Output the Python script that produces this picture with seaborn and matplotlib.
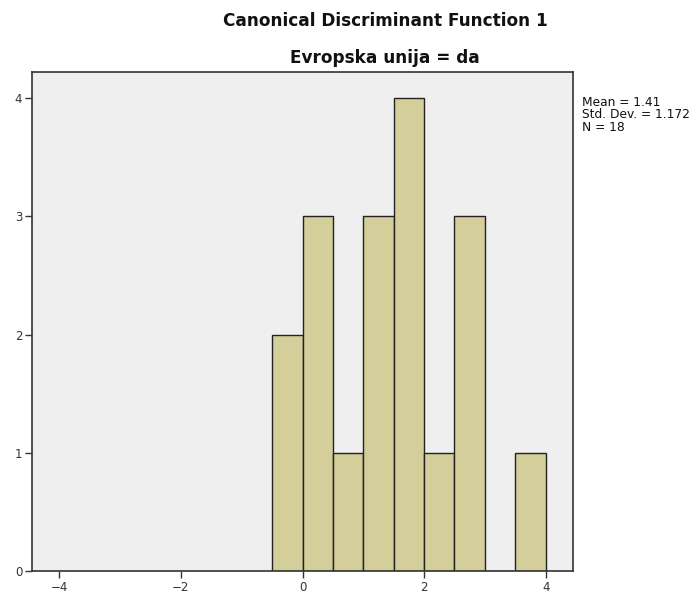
import numpy as np
import pandas as pd
import matplotlib
matplotlib.use("Agg")
import matplotlib.pyplot as plt
import seaborn as sns

# histogram data (SPSS-style discriminant score histogram)
bin_edges = [-0.5, 0.0, 0.5, 1.0, 1.5, 2.0, 2.5, 3.0, 3.5, 4.0]
counts = [2, 3, 1, 3, 4, 1, 3, 0, 1]
x_ticks = [-4, -2, 0, 2, 4]
y_ticks = [0, 1, 2, 3, 4]
stats_text = "Mean = 1.41\nStd. Dev. = 1.172\nN = 18"
title1 = "Canonical Discriminant Function 1"
title2 = "Evropska unija = da"

sns.set_style("ticks")
plt.rcParams['font.family'] = ['DejaVu Sans']

centers = [(a + b) / 2 for a, b in zip(bin_edges[:-1], bin_edges[1:])]
df = pd.DataFrame({'score': centers, 'count': counts})

fig = plt.figure(figsize=(6.96, 5.94), dpi=100)
ax = fig.add_axes([32 / 696, 23 / 594, 541 / 696, 499 / 594])
ax.set_facecolor('#efefef')

sns.histplot(data=df, x='score', weights='count', bins=bin_edges, ax=ax,
             color='#d3ce9a', alpha=1, edgecolor='#222222', linewidth=1.0)

ax.set_xlim(-4.45, 4.45)
ax.set_ylim(0, 4.22)
ax.set_xticks(x_ticks)
ax.set_yticks(y_ticks)
ax.set_xticklabels([str(t).replace('-', '\u2212') for t in x_ticks])
ax.set_xlabel('')
ax.set_ylabel('')
ax.tick_params(axis='both', labelsize=8.5, length=5, width=1, color='#333333',
               labelcolor='#333333', direction='out', pad=2)
for sp in ax.spines.values():
    sp.set_visible(True)
    sp.set_color('#333333')
    sp.set_linewidth(1.2)

fig.text(385 / 696, 1 - 21 / 594, title1, ha='center', va='center',
         fontsize=12.2, fontweight='bold', color='#111111')
fig.text(385 / 696, 1 - 58 / 594, title2, ha='center', va='center',
         fontsize=12.2, fontweight='bold', color='#111111')
fig.text(582 / 696, 1 - 96 / 594, stats_text, ha='left', va='top',
         fontsize=8.8, color='#111111', linespacing=0.95)

fig.savefig('out.png', dpi=100)
